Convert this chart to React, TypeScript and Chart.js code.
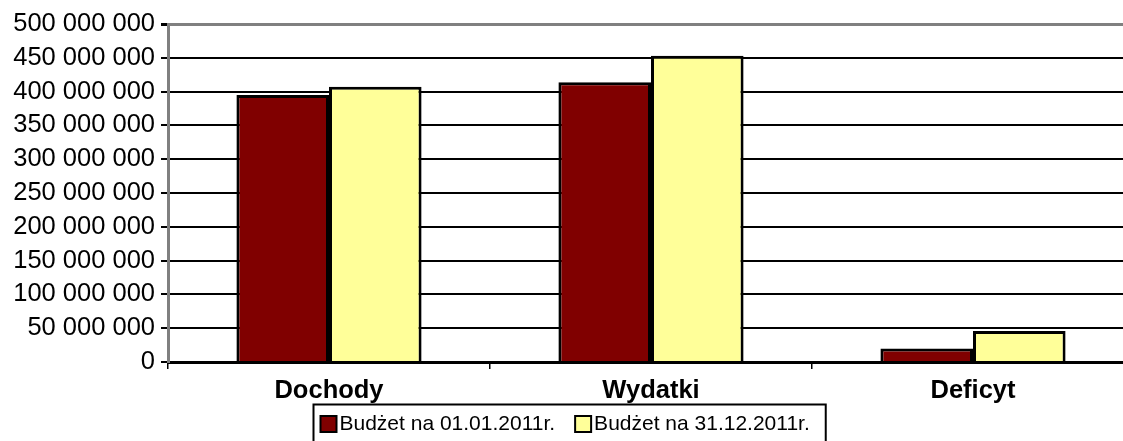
import React, { useEffect, useRef } from "react";
import { Chart, registerables } from "chart.js";

Chart.register(...registerables);

const categories = ["Dochody", "Wydatki", "Deficyt"];
const seriesLabels = ["Budżet na 01.01.2011r.", "Budżet na 31.12.2011r."];
const budget0101 = [395000000, 414000000, 20000000];
const budget3112 = [407000000, 453000000, 46000000];
const seriesColors = ["#800000", "#FFFF99"];
const yMin = 0;
const yMax = 500000000;
const yStep = 50000000;

const FONT = "'Liberation Sans', Arial, Helvetica, sans-serif";

function fmt(v: number): string {
  return String(Math.round(v)).replace(/\B(?=(\d{3})+(?!\d))/g, " ");
}

const boxLegend = {
  id: "boxLegend",
  afterDraw(chart: any) {
    const ctx = chart.ctx as CanvasRenderingContext2D;
    const ds = chart.data.datasets;
    ctx.save();
    ctx.font = `21px ${FONT}`;
    const sw = 16;
    const gapIn = 3;
    const gapBetween = 20;
    const padL = 7;
    const padR = 16;
    const widths = ds.map((d: any) => ctx.measureText(d.label).width);
    let total = padL + padR;
    ds.forEach((d: any, i: number) => {
      total += sw + gapIn + widths[i];
    });
    total += gapBetween * (ds.length - 1);
    const cx = 569;
    const x0 = Math.round(cx - total / 2) + 0.5;
    const top = 404.5;
    const h = 38;
    ctx.fillStyle = "#fff";
    ctx.fillRect(x0, top, total, h);
    ctx.strokeStyle = "#000";
    ctx.lineWidth = 2;
    ctx.strokeRect(x0, top, total, h);
    const cy = top + h / 2 + 0.5;
    let x = x0 + padL;
    ds.forEach((d: any, i: number) => {
      ctx.fillStyle = d.backgroundColor;
      ctx.fillRect(x, cy - sw / 2, sw, sw);
      ctx.strokeStyle = "#000";
      ctx.lineWidth = 2;
      ctx.strokeRect(x, cy - sw / 2, sw, sw);
      x += sw + gapIn;
      ctx.fillStyle = "#000";
      ctx.textBaseline = "middle";
      ctx.textAlign = "left";
      ctx.fillText(d.label, x, cy);
      x += widths[i] + gapBetween;
    });
    ctx.restore();
  },
};

export default function App() {
  const ref = useRef<HTMLCanvasElement | null>(null);

  useEffect(() => {
    if (!ref.current) return;
    Chart.defaults.color = "#000";
    const chart = new Chart(ref.current, {
      type: "bar",
      data: {
        labels: categories,
        datasets: [
          {
            label: seriesLabels[0],
            data: budget0101,
            backgroundColor: seriesColors[0],
            borderColor: "#000",
            borderWidth: 3,
            categoryPercentage: 0.575,
            barPercentage: 1,
          },
          {
            label: seriesLabels[1],
            data: budget3112,
            backgroundColor: seriesColors[1],
            borderColor: "#000",
            borderWidth: 3,
            categoryPercentage: 0.575,
            barPercentage: 1,
          },
        ],
      },
      options: {
        responsive: false,
        animation: false,
        layout: { padding: { left: 0, right: 6, top: 24, bottom: 0 } },
        plugins: {
          legend: { display: false },
          tooltip: { enabled: false },
          title: { display: false },
        },
        scales: {
          x: {
            offset: true,
            grid: {
              display: true,
              drawOnChartArea: false,
              drawTicks: true,
              tickLength: 7,
              color: "#000",
              lineWidth: 1.5,
              offset: true,
            },
            border: { display: true, color: "#000", width: 3 },
            ticks: {
              color: "#000",
              padding: 7,
              font: { family: FONT, size: 25.5, weight: "bold" },
              maxRotation: 0,
            },
            afterFit: (scale: any) => {
              scale.height = 79;
            },
          },
          y: {
            min: yMin,
            max: yMax,
            ticks: {
              stepSize: yStep,
              color: "#000",
              padding: 6,
              font: { family: FONT, size: 25.5 },
              callback: (v: any) => fmt(Number(v)),
            },
            grid: {
              color: (c: any) => (c.tick && c.tick.value === yMax ? "#808080" : "#000"),
              lineWidth: (c: any) => (c.tick && c.tick.value === yMax ? 3 : 2),
              tickColor: "#000",
              tickLength: 7,
            },
            border: { display: true, color: "#808080", width: 3 },
            afterFit: (scale: any) => {
              scale.width = 168;
            },
          },
        },
      },
      plugins: [boxLegend],
    });
    return () => chart.destroy();
  }, []);

  return (
    <div
      style={{
        position: "fixed",
        left: 0,
        top: 0,
        width: 1123,
        height: 441,
        overflow: "hidden",
        background: "#fff",
      }}
    >
      <canvas ref={ref} width={1140} height={441} style={{ display: "block" }} />
    </div>
  );
}
